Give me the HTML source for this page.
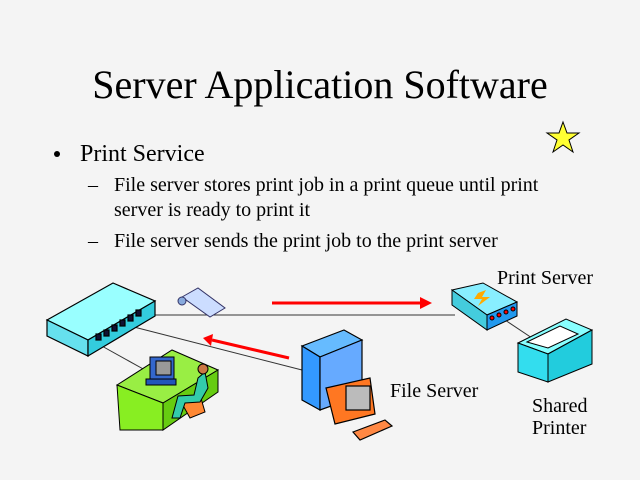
<!DOCTYPE html>
<html><head><style>html,body{margin:0;padding:0;background:#f4f4f4}svg{display:block}</style></head>
<body>
<svg width="640" height="480" viewBox="0 0 640 480" xmlns="http://www.w3.org/2000/svg" font-family="Liberation Serif, serif">
<rect width="640" height="480" fill="#f4f4f4"/>
<text x="320" y="98" font-size="40" text-anchor="middle">Server Application Software</text>
<circle cx="57" cy="154" r="3" fill="#000"/>
<text x="80" y="161" font-size="24">Print Service</text>
<text x="88" y="191" font-size="20">–</text>
<text x="114" y="191" font-size="20">File server stores print job in a print queue until print</text>
<text x="114" y="216" font-size="20">server is ready to print it</text>
<text x="88" y="247" font-size="20">–</text>
<text x="114" y="247" font-size="20">File server sends the print job to the print server</text>
<polygon points="563,122 567,133 579,133 569,140 573,152 563,145 553,152 557,140 547,133 559,133" fill="#ffff33" stroke="#000" stroke-width="1"/>
<g stroke="#333" stroke-width="1">
<line x1="155" y1="315" x2="455" y2="315"/>
<line x1="130" y1="326" x2="302" y2="370"/>
<line x1="100" y1="345" x2="145" y2="370"/>
<line x1="505" y1="320" x2="535" y2="340"/>
</g>
<g stroke="#f00" stroke-width="3" fill="#f00">
<line x1="272" y1="303" x2="422" y2="303"/>
<polygon points="432,303 420,297 420,309" stroke="none"/>
<line x1="289" y1="358" x2="212" y2="340"/>
<polygon points="203,338 213,334 211,346" stroke="none"/>
</g>
<g stroke="#000" stroke-width="1.2">
<polygon points="47,320 113,283 155,301 88,340" fill="#99ffff"/>
<polygon points="47,320 88,340 88,356 47,336" fill="#66e0ee"/>
<polygon points="88,340 155,301 155,316 88,356" fill="#33ccdd"/>
<g fill="#113">
<rect x="96" y="334" width="5" height="6"/><rect x="104" y="330" width="5" height="6"/><rect x="112" y="325" width="5" height="6"/><rect x="120" y="320" width="5" height="6"/><rect x="128" y="315" width="5" height="6"/><rect x="136" y="310" width="5" height="6"/>
</g>
</g>
<polygon points="182,297 198,288 225,308 210,317" fill="#ccddff" stroke="#336" stroke-width="1"/>
<circle cx="182" cy="301" r="4" fill="#88aadd" stroke="#336"/>
<g stroke="#000" stroke-width="1">
<polygon points="117,385 172,350 218,370 163,403" fill="#99ee44"/>
<polygon points="117,385 163,403 163,430 120,430" fill="#88ee22"/>
<polygon points="163,403 218,370 218,392 163,430" fill="#66cc11"/>
<rect x="150" y="357" width="24" height="22" fill="#3366cc"/>
<rect x="156" y="361" width="15" height="14" fill="#999"/>
<rect x="146" y="379" width="30" height="6" fill="#2255bb"/>
<polygon points="180,400 200,395 205,412 190,418" fill="#ff8833"/>
<path d="M198,378 L205,372 L208,388 L200,402 L185,403 L180,418 L172,418 L178,396 L194,395 Z" fill="#33ccaa"/>
<circle cx="203" cy="369" r="5" fill="#cc7744"/>
</g>
<g stroke="#000" stroke-width="1.2">
<polygon points="302,346 344,330 362,340 320,357" fill="#66bbff"/>
<polygon points="302,346 320,357 320,410 302,400" fill="#3399ff"/>
<polygon points="320,357 362,340 362,395 320,410" fill="#66aaff"/>
<polygon points="326,388 370,378 375,414 335,424" fill="#ff7722"/>
<rect x="346" y="386" width="24" height="24" fill="#bbb"/>
<polygon points="353,432 385,420 392,426 360,440" fill="#ff8844"/>
</g>
<g stroke="#000" stroke-width="1">
<polygon points="452,290 483,283 517,302 487,315" fill="#88eeff"/>
<polygon points="452,290 487,315 487,330 452,305" fill="#44ccdd"/>
<polygon points="487,315 517,302 517,316 487,330" fill="#2299ee"/>
<polygon points="478,293 486,290 482,297 490,297 478,306 482,299 474,299" fill="#ffaa00" stroke="none"/>
<circle cx="492" cy="318" r="2" fill="#f00"/><circle cx="499" cy="315" r="2" fill="#f00"/><circle cx="506" cy="312" r="2" fill="#f00"/><circle cx="513" cy="309" r="2" fill="#f00"/>
</g>
<g stroke="#000" stroke-width="1">
<polygon points="518,343 566,319 592,330 548,354" fill="#88ffff"/>
<polygon points="527,342 560,326 578,334 548,348" fill="#fff"/>
<polygon points="518,343 548,354 548,382 518,372" fill="#33ddee"/>
<polygon points="548,354 592,330 592,364 548,382" fill="#22ccdd"/>
</g>
<g font-size="20">
<text x="497" y="284">Print Server</text>
<text x="390" y="397">File Server</text>
<text x="532" y="412">Shared</text>
<text x="532" y="434">Printer</text>
</g>
</svg>
</body></html>
